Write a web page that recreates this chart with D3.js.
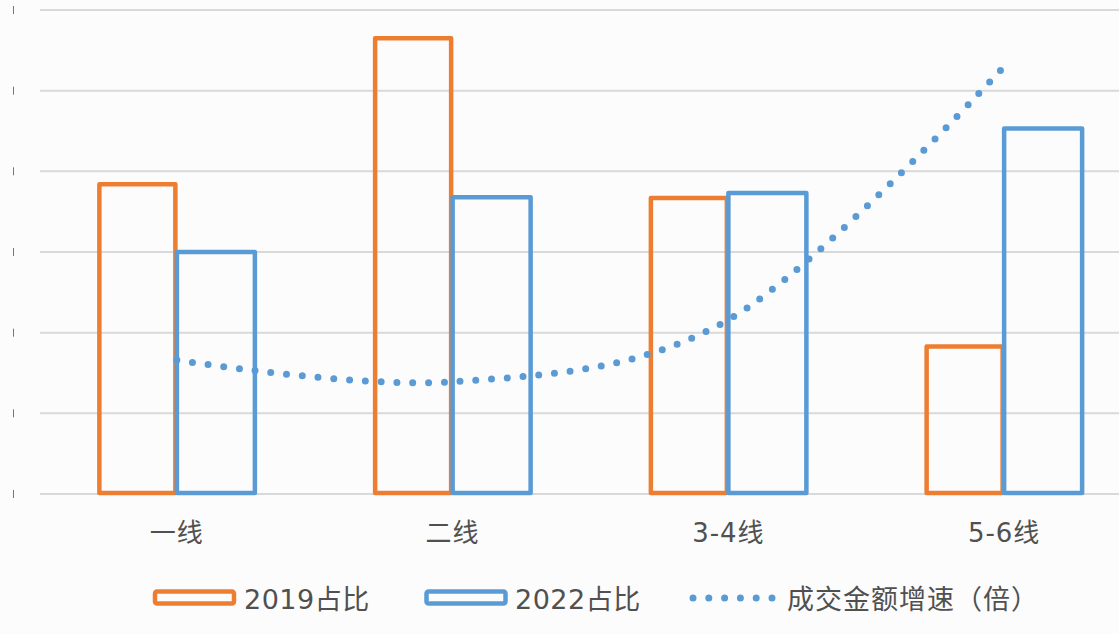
<!DOCTYPE html>
<html>
<head>
<meta charset="utf-8">
<script src="https://cdn.jsdelivr.net/npm/d3@7/dist/d3.min.js"></script>
<style>
  html, body { margin: 0; padding: 0; background: #fcfcfc; }
  svg { display: block; }
  text { font-family: "DejaVu Sans", "Noto Sans CJK SC", sans-serif; fill: #505050; }
</style>
</head>
<body>
<svg id="chart" width="1119" height="634"></svg>
<script>
// ---- data ----
const categories = ["一线", "二线", "3-4线", "5-6线"];
const share2019 = [3.84, 5.65, 3.67, 1.83];
const share2022 = [3.00, 3.68, 3.73, 4.53];
const growth = [1.66, 1.39, 2.16, 5.30];
const yTicks = [0, 1, 2, 3, 4, 5, 6];
const seriesNames = ["2019占比", "2022占比", "成交金额增速（倍）"];

const ORANGE = "#ED7D31", BLUE = "#5B9BD5";

const svg = d3.select("#chart");
svg.append("rect").attr("width", 1119).attr("height", 634).attr("fill", "#fcfcfc");

const x = d3.scalePoint().domain(categories).range([39, 1142]).padding(0.5);
const y = d3.scaleLinear().domain([0, 6]).range([494, 10]);
const barW = 78;

// gridlines
svg.append("g").selectAll("line").data(yTicks).join("line")
  .attr("x1", 40).attr("x2", 1119)
  .attr("y1", d => y(d)).attr("y2", d => y(d))
  .attr("stroke", "#d9d9d9").attr("stroke-width", 2);

// remnant tick marks at left
svg.append("g").selectAll("line").data(yTicks).join("line")
  .attr("x1", 13.5).attr("x2", 13.5)
  .attr("y1", d => y(d) - 4).attr("y2", d => y(d) + 4)
  .attr("stroke", "#777").attr("stroke-width", 1);

// bars
const bars = svg.append("g").attr("fill", "none").attr("stroke-width", 4.5).attr("stroke-linejoin", "round");
bars.selectAll("rect.o").data(categories).join("rect").attr("class", "o")
  .attr("x", d => x(d) - barW + 0.5)
  .attr("width", barW - 2)
  .attr("y", (d, i) => y(share2019[i]))
  .attr("height", (d, i) => y(0) - y(share2019[i]) - 1)
  .attr("stroke", ORANGE);
bars.selectAll("rect.b").data(categories).join("rect").attr("class", "b")
  .attr("x", d => x(d))
  .attr("width", barW)
  .attr("y", (d, i) => y(share2022[i]))
  .attr("height", (d, i) => y(0) - y(share2022[i]) - 1)
  .attr("stroke", BLUE);

// dotted growth line
const line = d3.line()
  .x((d, i) => x(categories[i]))
  .y(d => y(d))
  .curve(d3.curveCardinal.tension(0));
svg.append("path").datum(growth)
  .attr("d", line)
  .attr("fill", "none")
  .attr("stroke", BLUE)
  .attr("stroke-width", 7)
  .attr("stroke-linecap", "round")
  .attr("stroke-dasharray", "0 15.8");

// x labels
svg.append("g").selectAll("text").data(categories).join("text")
  .attr("x", d => x(d))
  .attr("y", 542)
  .attr("text-anchor", "middle")
  .attr("font-size", 26)
  .attr("letter-spacing", 1)
  .text(d => d);

// legend
const lg = svg.append("g");
lg.append("rect").attr("x", 155).attr("y", 591.5).attr("width", 79).attr("height", 12)
  .attr("rx", 2).attr("fill", "none").attr("stroke", ORANGE).attr("stroke-width", 4.5);
lg.append("text").attr("x", 244).attr("y", 609).attr("font-size", 27).attr("letter-spacing", 0.5).text(seriesNames[0]);
lg.append("rect").attr("x", 426.5).attr("y", 591.5).attr("width", 79).attr("height", 12)
  .attr("rx", 2).attr("fill", "none").attr("stroke", BLUE).attr("stroke-width", 4.5);
lg.append("text").attr("x", 515).attr("y", 609).attr("font-size", 27).attr("letter-spacing", 0.5).text(seriesNames[1]);
lg.append("line").attr("x1", 693).attr("x2", 778).attr("y1", 598).attr("y2", 598)
  .attr("stroke", BLUE).attr("stroke-width", 7).attr("stroke-linecap", "round")
  .attr("stroke-dasharray", "0 15.8");
lg.append("text").attr("x", 787).attr("y", 609).attr("font-size", 27).attr("letter-spacing", 1).text(seriesNames[2]);
</script>
</body>
</html>
